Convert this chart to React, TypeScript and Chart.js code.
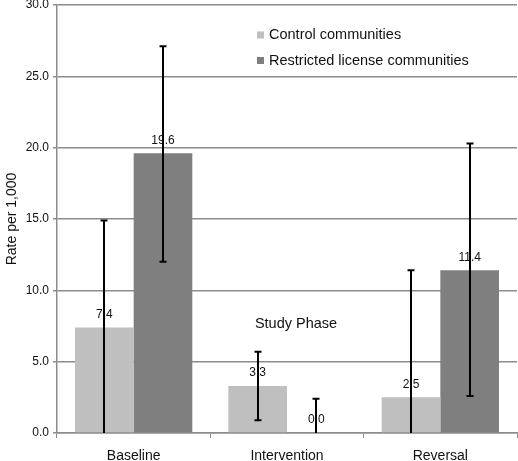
import React, { useEffect, useRef } from "react";
import { Chart, registerables } from "chart.js";

Chart.register(...registerables);

const categories = ["Baseline", "Intervention", "Reversal"];
const seriesNames = ["Control communities", "Restricted license communities"];
const controlValues = [7.4, 3.3, 2.5];
const restrictedValues = [19.6, 0.0, 11.4];
const controlLow = [0, 0.9, 0];
const controlHigh = [14.9, 5.7, 11.4];
const restrictedLow = [12.0, 0, 2.6];
const restrictedHigh = [27.1, 2.4, 20.3];
const yTicks = [0, 5, 10, 15, 20, 25, 30];

const FONT = "'Liberation Sans', Arial, Helvetica, sans-serif";
const GRID = "#8c8c8c";
const COLORS = ["#bfbfbf", "#7f7f7f"];

export default function App() {
  const ref = useRef<HTMLCanvasElement | null>(null);
  useEffect(() => {
    if (!ref.current) return;
    const lows = [controlLow, restrictedLow];
    const highs = [controlHigh, restrictedHigh];

    const overlay = {
      id: "overlay",
      afterDatasetsDraw(chart: any) {
        const ctx = chart.ctx;
        const yScale = chart.scales.y;
        ctx.save();
        // data labels
        ctx.font = `12px ${FONT}`;
        ctx.fillStyle = "#111";
        ctx.textAlign = "center";
        ctx.textBaseline = "middle";
        chart.data.datasets.forEach((ds: any, di: number) => {
          const meta = chart.getDatasetMeta(di);
          meta.data.forEach((bar: any, i: number) => {
            ctx.fillText(Number(ds.data[i]).toFixed(1), bar.x, bar.y - 13);
          });
        });
        // error bars
        ctx.strokeStyle = "#000";
        ctx.lineWidth = 2;
        chart.data.datasets.forEach((_ds: any, di: number) => {
          const meta = chart.getDatasetMeta(di);
          meta.data.forEach((bar: any, i: number) => {
            const x = Math.round(bar.x);
            const yTop = yScale.getPixelForValue(highs[di][i]);
            const yBot = yScale.getPixelForValue(lows[di][i]);
            ctx.beginPath();
            ctx.moveTo(x, yTop);
            ctx.lineTo(x, yBot);
            ctx.moveTo(x - 3.5, yTop);
            ctx.lineTo(x + 3.5, yTop);
            if (lows[di][i] > 0) {
              ctx.moveTo(x - 3.5, yBot);
              ctx.lineTo(x + 3.5, yBot);
            }
            ctx.stroke();
          });
        });
        // legend
        ctx.font = `14.5px ${FONT}`;
        ctx.textAlign = "left";
        ctx.textBaseline = "middle";
        const ly = [35, 60.5];
        seriesNames.forEach((name, i) => {
          ctx.fillStyle = COLORS[i];
          ctx.fillRect(257, ly[i] - 3.5, 7, 7);
          ctx.fillStyle = "#111";
          ctx.fillText(name, 269, ly[i]);
        });
        // axis title placed inside plot
        ctx.textAlign = "center";
        ctx.fillText("Study Phase", 296, 324);
        ctx.restore();
      },
    };

    const chart = new Chart(ref.current, {
      type: "bar",
      data: {
        labels: categories,
        datasets: [
          {
            label: seriesNames[0],
            data: controlValues,
            backgroundColor: COLORS[0],
            borderWidth: 0,
          },
          {
            label: seriesNames[1],
            data: restrictedValues,
            backgroundColor: COLORS[1],
            borderWidth: 0,
          },
        ],
      },
      plugins: [overlay],
      options: {
        animation: false,
        responsive: false,
        maintainAspectRatio: false,
        layout: { padding: { left: 4, right: 1, top: 5, bottom: 0 } },
        plugins: {
          legend: { display: false },
          tooltip: { enabled: false },
        },
        datasets: {
          bar: { categoryPercentage: 0.765, barPercentage: 1 },
        },
        scales: {
          x: {
            grid: {
              drawOnChartArea: false,
              drawTicks: true,
              tickLength: 5,
              color: GRID,
              offset: true,
            },
            border: { color: GRID, width: 1.5 },
            ticks: {
              color: "#111",
              font: { family: FONT, size: 14 },
              padding: 10,
            },
            afterFit(scale: any) {
              scale.height = 28;
            },
          },
          y: {
            min: 0,
            max: 30,
            afterBuildTicks(scale: any) {
              scale.ticks = yTicks.map((v) => ({ value: v }));
            },
            grid: {
              color: GRID,
              lineWidth: 1.5,
              tickLength: 4,
              drawTicks: true,
            },
            border: { color: GRID, width: 1.5 },
            ticks: {
              color: "#111",
              font: { family: FONT, size: 12 },
              padding: 4,
              callback: (v: any) => Number(v).toFixed(1),
            },
            title: {
              display: true,
              text: "Rate per 1,000",
              color: "#111",
              font: { family: FONT, size: 14 },
              padding: { top: 0, bottom: 0 },
            },
            afterFit(scale: any) {
              scale.width = 53;
              scale.paddingTop = 0;
              scale.paddingBottom = 0;
            },
          },
        },
      },
    });
    return () => chart.destroy();
  }, []);

  return (
    <div style={{ position: "fixed", left: 0, top: 0, width: 518, height: 461, background: "#fff" }}>
      <canvas ref={ref} width={518} height={461} style={{ display: "block" }} />
    </div>
  );
}
